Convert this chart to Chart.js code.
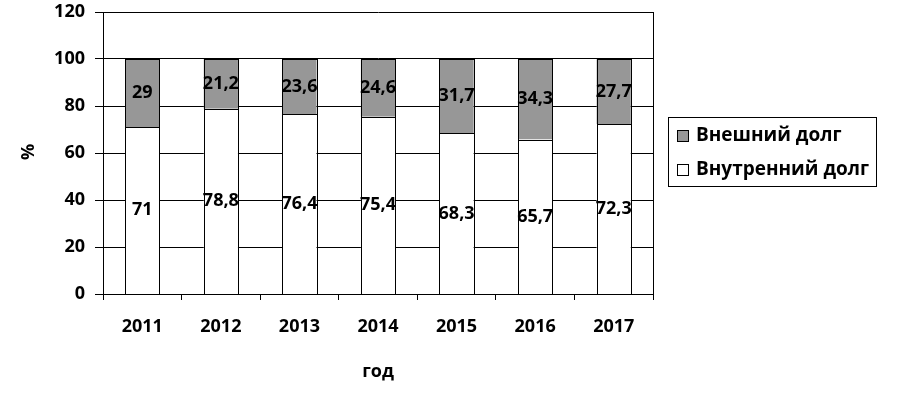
<!DOCTYPE html>
<html>
<head>
<meta charset="utf-8">
<script src="https://cdn.jsdelivr.net/npm/chart.js@4"></script>
<style>
  html, body { margin: 0; padding: 0; background: #fff; }
  #wrap { width: 900px; height: 396px; position: relative; }
</style>
</head>
<body>
<div id="wrap"><canvas id="debtChart" width="900" height="396"></canvas></div>
<script>
const years = ["2011", "2012", "2013", "2014", "2015", "2016", "2017"];
const internalDebt = [71, 78.8, 76.4, 75.4, 68.3, 65.7, 72.3];
const externalDebt = [29, 21.2, 23.6, 24.6, 31.7, 34.3, 27.7];
const yTicks = [0, 20, 40, 60, 80, 100, 120];

const FONT = "'Open Sans', Lato, sans-serif";

function fmt(v) {
    return String(v).replace(".", ",");
}

// frame, crisp bar outlines, value labels, axis titles and legend
const extras = {
    id: "extras",
    beforeDatasetsDraw(chart) {
        const { ctx, chartArea: a } = chart;
        ctx.save();
        ctx.strokeStyle = "#000";
        ctx.lineWidth = 1;
        ctx.beginPath();
        ctx.moveTo(Math.round(a.right) + 0.5, a.top);
        ctx.lineTo(Math.round(a.right) + 0.5, a.bottom);
        ctx.stroke();
        ctx.restore();
    },
    afterDatasetsDraw(chart) {
        const { ctx } = chart;
        ctx.save();
        ctx.strokeStyle = "#000";
        ctx.lineWidth = 1;
        chart.data.datasets.forEach((ds, i) => {
            chart.getDatasetMeta(i).data.forEach(bar => {
                const l = Math.round(bar.x - bar.width / 2) + 0.5;
                const r = Math.round(bar.x + bar.width / 2) + 0.5;
                const t = Math.round(Math.min(bar.y, bar.base)) + 0.5;
                const b = Math.round(Math.max(bar.y, bar.base)) + 0.5;
                ctx.strokeRect(l, t, r - l, b - t);
            });
        });
        ctx.restore();
    },
    afterDraw(chart) {
        const { ctx, chartArea: a } = chart;
        ctx.save();
        ctx.fillStyle = "#000";
        ctx.font = "bold 18px " + FONT;
        ctx.textAlign = "center";
        ctx.textBaseline = "middle";

        chart.data.datasets.forEach((ds, i) => {
            const meta = chart.getDatasetMeta(i);
            meta.data.forEach((bar, j) => {
                const y = (bar.y + bar.base) / 2;
                ctx.fillText(fmt(ds.data[j]), bar.x, y);
            });
        });

        // axis titles
        ctx.fillText("год", (a.left + a.right) / 2, 372);
        ctx.save();
        ctx.translate(29, 152);
        ctx.rotate(-Math.PI / 2);
        ctx.fillText("%", 0, 0);
        ctx.restore();

        // legend
        const lx = 668, ly = 117, lw = 208, lh = 69;
        ctx.strokeStyle = "#000";
        ctx.lineWidth = 1;
        ctx.strokeRect(lx + 0.5, ly + 0.5, lw, lh);
        const items = [chart.data.datasets[1], chart.data.datasets[0]];
        ctx.textAlign = "left";
        ctx.font = "bold 19px " + FONT;
        items.forEach((ds, k) => {
            const cy = 136 + k * 34;
            ctx.fillStyle = ds.backgroundColor;
            ctx.fillRect(677.5, cy - 5.5, 11, 11);
            ctx.strokeRect(677.5, cy - 5.5, 11, 11);
            ctx.fillStyle = "#000";
            ctx.fillText(ds.label, 696, cy);
        });
        ctx.restore();
    }
};

const ctx = document.getElementById("debtChart").getContext("2d");
const debtChart = new Chart(ctx, {
    type: "bar",
    data: {
        labels: years,
        datasets: [{
            label: "Внутренний долг",
            data: internalDebt,
            backgroundColor: "#ffffff",
            borderWidth: 0
        }, {
            label: "Внешний долг",
            data: externalDebt,
            backgroundColor: "#979797",
            borderWidth: 0
        }]
    },
    options: {
        responsive: false,
        animation: false,
        devicePixelRatio: 1,
        layout: { padding: { left: 0, top: 0, right: 247, bottom: 0 } },
        datasets: {
            bar: { categoryPercentage: 1, barPercentage: 0.435 }
        },
        plugins: {
            legend: { display: false },
            tooltip: { enabled: false }
        },
        scales: {
            x: {
                stacked: true,
                grid: {
                    drawOnChartArea: false,
                    drawTicks: true,
                    tickLength: 6,
                    color: "#000"
                },
                border: { color: "#000", width: 1 },
                ticks: {
                    color: "#000",
                    padding: 16,
                    font: { family: FONT, size: 18, weight: "bold" }
                },
                afterFit(scale) { scale.height = 102; }
            },
            y: {
                stacked: true,
                min: 0,
                max: 120,
                afterBuildTicks(scale) {
                    scale.ticks = yTicks.map(v => ({ value: v }));
                },
                grid: {
                    color: "#000",
                    lineWidth: 1,
                    tickLength: 8
                },
                border: { color: "#000", width: 1 },
                ticks: {
                    color: "#000",
                    padding: 10,
                    font: { family: FONT, size: 18, weight: "bold" }
                },
                afterFit(scale) {
                    scale.width = 103;
                    scale.paddingTop = 12;
                    scale.paddingBottom = 0;
                }
            }
        }
    },
    plugins: [extras]
});
</script>
</body>
</html>
